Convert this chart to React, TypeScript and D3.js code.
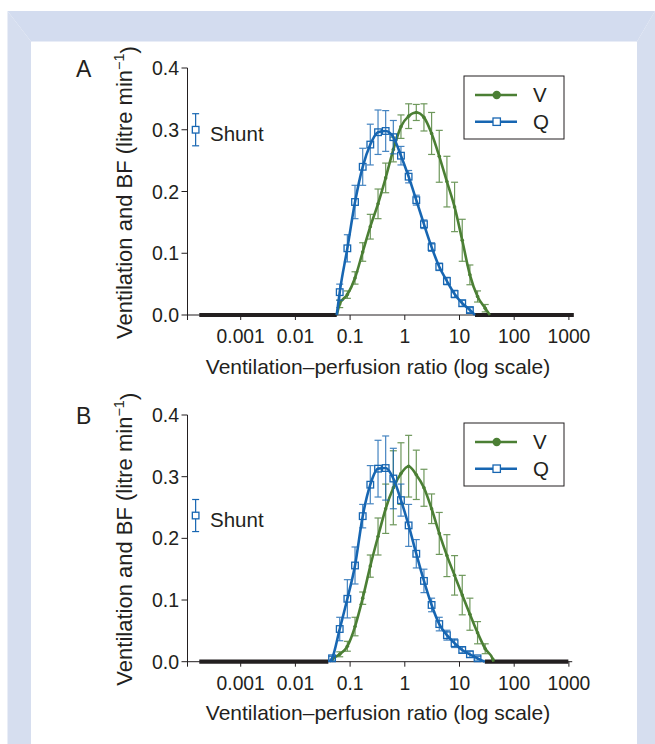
import React from 'react';
import * as d3 from 'd3';

// V/Q compartments (ratio), shared by both panels
const vqRatio = [0.0468, 0.0646, 0.0891, 0.123, 0.170, 0.234, 0.324, 0.447, 0.617, 0.851, 1.175,
  1.622, 2.239, 3.090, 4.266, 5.888, 8.128, 11.22, 15.49, 21.38, 29.51, 40.74];

// panel A
const qA = [null, 0.037, 0.108, 0.183, 0.240, 0.276, 0.296, 0.298, 0.288, 0.258, 0.224,
  0.186, 0.147, 0.110, 0.078, 0.055, 0.034, 0.019, 0.008, null, null, null];
const qAErr = [0, 0.013, 0.022, 0.027, 0.030, 0.033, 0.036, 0.033, 0.027, 0.015, 0.010,
  0.008, 0.007, 0.007, 0.006, 0.006, 0.006, 0.005, 0.004, 0, 0, 0];
const vA = [null, 0.018, 0.033, 0.060, 0.102, 0.143, 0.180, 0.222, 0.268, 0.305, 0.322,
  0.328, 0.320, 0.294, 0.257, 0.216, 0.175, 0.121, 0.065, 0.030, 0.011, null];
const vAErr = [0, 0.006, 0.006, 0.010, 0.015, 0.020, 0.024, 0.024, 0.020, 0.019, 0.020,
  0.013, 0.022, 0.034, 0.042, 0.041, 0.040, 0.034, 0.016, 0.009, 0.006, 0];
const shuntA = 0.300;
const shuntAErr = 0.026;
const qEndsA = [0.057, 19.2];
const vEndsA = [0.057, 36];
const zeroRunsA = [[1.75e-4, 0.057], [19.2, 1230]];

// panel B
const qB = [0.0055, 0.053, 0.102, 0.156, 0.236, 0.287, 0.313, 0.314, 0.297, 0.262, 0.221,
  0.175, 0.131, 0.092, 0.061, 0.043, 0.030, 0.019, 0.012, 0.0055, null, null];
const qBErr = [0.003, 0.019, 0.031, 0.030, 0.019, 0.031, 0.046, 0.052, 0.049, 0.026, 0.034,
  0.023, 0.019, 0.011, 0.011, 0.008, 0.007, 0.005, 0.005, 0.003, 0, 0];
const vB = [0.003, 0.012, 0.025, 0.057, 0.103, 0.155, 0.203, 0.248, 0.282, 0.305, 0.317,
  0.303, 0.282, 0.248, 0.208, 0.172, 0.140, 0.108, 0.077, 0.047, 0.021, 0.004];
const vBErr = [0, 0.004, 0.008, 0.015, 0.010, 0.018, 0.030, 0.040, 0.060, 0.050, 0.050,
  0.040, 0.030, 0.024, 0.034, 0.034, 0.032, 0.032, 0.026, 0.018, 0.008, 0];
const shuntB = 0.237;
const shuntBErr = 0.026;
const qEndsB = [0.042, 29];
const vEndsB = [0.045, 41.7];
const zeroRunsB = [[1.75e-4, 0.040], [29, 977]];

const shuntAt = 1.5e-4;
const xTicks = [0.001, 0.01, 0.1, 1, 10, 100, 1000];
const xTickLabels = ['0.001', '0.01', '0.1', '1', '10', '100', '1000'];
const yTicks = [0, 0.1, 0.2, 0.3, 0.4];

const GREEN = '#4b7f34';
const BLUE = '#1766b2';
const INK = '#231f20';
const FONT = 'Liberation Sans, Arial, Helvetica, sans-serif';

const x = d3.scaleLog().domain([1e-3, 1e3]).range([240.7, 568.9]);

function ErrBars({ vals, errs, y, color }) {
  return (
    <g stroke={color} strokeWidth={1.2} opacity={0.8}>
      {vals.map((v, i) => {
        if (v == null || !errs[i]) return null;
        const cx = x(vqRatio[i]);
        const y1 = y(v + errs[i]);
        const y2 = y(Math.max(0, v - errs[i]));
        return (
          <g key={i}>
            <line x1={cx} x2={cx} y1={y1} y2={y2} />
            <line x1={cx - 3.5} x2={cx + 3.5} y1={y1} y2={y1} />
            <line x1={cx - 3.5} x2={cx + 3.5} y1={y2} y2={y2} />
          </g>
        );
      })}
    </g>
  );
}

function curvePath(vals, ends, y) {
  const pts = [[x(ends[0]), y(0)]];
  vals.forEach((v, i) => {
    if (v != null) pts.push([x(vqRatio[i]), y(v)]);
  });
  pts.push([x(ends[1]), y(0)]);
  return d3.line().curve(d3.curveMonotoneX)(pts);
}

function Panel({ label, y0, yTop, q, qErr, v, vErr, shunt, shuntErr, qEnds, vEnds, zeroRuns }) {
  const y = d3.scaleLinear().domain([0, 0.4]).range([y0, yTop]);
  const axisLeft = 187.5;
  const axisRight = x(1150);
  const legX = 464, legY = yTop + 8;
  const sq = 6.6;
  return (
    <g fontFamily={FONT} fill={INK}>
      <text x={76} y={yTop + 8.7} fontSize={23}>{label}</text>

      {/* y axis */}
      <line x1={axisLeft} x2={axisLeft} y1={yTop} y2={y0 + 5} stroke={INK} strokeWidth={1} />
      {yTicks.map(t => (
        <g key={t}>
          <line x1={axisLeft - 6} x2={axisLeft} y1={y(t)} y2={y(t)} stroke={INK} strokeWidth={1} />
          <text x={179} y={y(t)} dy="0.36em" textAnchor="end" fontSize={19.5}>{d3.format('.1f')(t)}</text>
        </g>
      ))}
      <text transform={`translate(131.5,${y0 - 122.5}) rotate(-90)`} textAnchor="middle" fontSize={22}>
        Ventilation and BF (litre min<tspan dy="-0.55em" fontSize={14.5}>−1</tspan><tspan dy="0.55em">)</tspan>
      </text>

      {/* x axis */}
      <line x1={axisLeft} x2={axisRight} y1={y0} y2={y0} stroke={INK} strokeWidth={1} />
      {xTicks.map((t, i) => (
        <g key={t}>
          <line x1={x(t)} x2={x(t)} y1={y0} y2={y0 + 5} stroke={INK} strokeWidth={1} />
          <text x={x(t)} y={y0 + 28} textAnchor="middle" fontSize={19.3}>{xTickLabels[i]}</text>
        </g>
      ))}
      <text x={378} y={y0 + 58.5} textAnchor="middle" fontSize={21}>Ventilation–perfusion ratio (log scale)</text>

      {/* zero runs */}
      {zeroRuns.map((r, i) => (
        <line key={i} x1={x(r[0])} x2={x(r[1])} y1={y0} y2={y0} stroke={INK} strokeWidth={4.2} />
      ))}

      {/* green V */}
      <ErrBars vals={v} errs={vErr} y={y} color={GREEN} />
      <path d={curvePath(v, vEnds, y)} fill="none" stroke={GREEN} strokeWidth={2.6} />
      {v.map((val, i) => val == null ? null : (
        <circle key={i} cx={x(vqRatio[i])} cy={y(val)} r={1.8} fill={GREEN} />
      ))}

      {/* blue Q */}
      <ErrBars vals={q} errs={qErr} y={y} color={BLUE} />
      <path d={curvePath(q, qEnds, y)} fill="none" stroke={BLUE} strokeWidth={2.6} />
      {q.map((val, i) => val == null ? null : (
        <rect key={i} x={x(vqRatio[i]) - sq / 2} y={y(val) - sq / 2} width={sq} height={sq}
          fill="none" stroke={BLUE} strokeWidth={1.3} />
      ))}

      {/* shunt */}
      <g stroke={BLUE} strokeWidth={1.2}>
        <line x1={x(shuntAt)} x2={x(shuntAt)} y1={y(shunt + shuntErr)} y2={y(shunt - shuntErr)} />
        <line x1={x(shuntAt) - 3.5} x2={x(shuntAt) + 3.5} y1={y(shunt + shuntErr)} y2={y(shunt + shuntErr)} />
        <line x1={x(shuntAt) - 3.5} x2={x(shuntAt) + 3.5} y1={y(shunt - shuntErr)} y2={y(shunt - shuntErr)} />
        <rect x={x(shuntAt) - sq / 2} y={y(shunt) - sq / 2} width={sq} height={sq} fill="#fff" strokeWidth={1.3} />
      </g>
      <text x={210} y={y(shunt) + 11.5} fontSize={20.5}>Shunt</text>

      {/* legend */}
      <rect x={legX} y={legY} width={100} height={63} fill="#fff" stroke={INK} strokeWidth={1} />
      <line x1={legX + 11} x2={legX + 53} y1={legY + 19} y2={legY + 19} stroke={GREEN} strokeWidth={2.6} />
      <circle cx={legX + 32.7} cy={legY + 19} r={4.2} fill={GREEN} />
      <text x={legX + 69} y={legY + 26} fontSize={20.5}>V</text>
      <line x1={legX + 11} x2={legX + 53} y1={legY + 45.7} y2={legY + 45.7} stroke={BLUE} strokeWidth={2.6} />
      <rect x={legX + 32.7 - 3.7} y={legY + 45.7 - 3.7} width={7.4} height={7.4} fill="#fff" stroke={BLUE} strokeWidth={1.3} />
      <text x={legX + 69} y={legY + 52.7} fontSize={20.5}>Q</text>
    </g>
  );
}

export default function App() {
  return (
    <svg width={655} height={744} style={{ position: 'absolute', left: 0, top: 0 }}>
      <rect width={655} height={744} fill="#fff" />
      <polygon points="7.5,11 655,11 637,41.5 31,41.5" fill="#d3dcef" />
      <polygon points="7.5,11 31,41.5 31,744 7.5,744" fill="#d6deef" />
      <polygon points="655,11 655,744 637,744 637,41.5" fill="#d6deef" />
      <Panel label="A" y0={315} yTop={68} q={qA} qErr={qAErr} v={vA} vErr={vAErr}
        shunt={shuntA} shuntErr={shuntAErr} qEnds={qEndsA} vEnds={vEndsA} zeroRuns={zeroRunsA} />
      <Panel label="B" y0={661.7} yTop={415} q={qB} qErr={qBErr} v={vB} vErr={vBErr}
        shunt={shuntB} shuntErr={shuntBErr} qEnds={qEndsB} vEnds={vEndsB} zeroRuns={zeroRunsB} />
    </svg>
  );
}
